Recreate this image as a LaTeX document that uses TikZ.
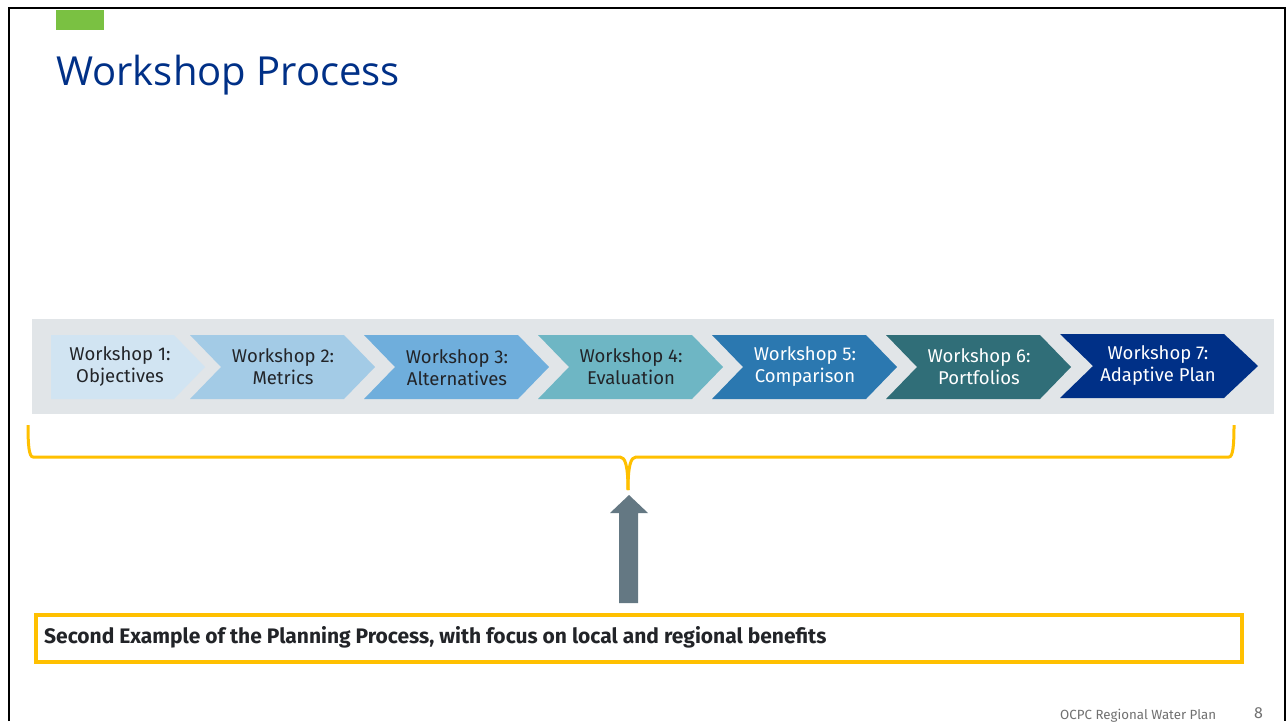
\documentclass[tikz,border=0pt]{standalone}
\usepackage{fontspec}
\setmainfont{Fira Sans}
\newfontfamily\titlefont{Open Sans}
\begin{document}
\begin{tikzpicture}[x=1pt,y=-1pt,
  lbl/.style={font=\fontsize{18.5}{22}\selectfont, align=center, inner sep=0pt},
  brace/.style={draw=bracey, line width=3pt, line join=round},
]
\definecolor{bracey}{HTML}{FFC000}
\definecolor{bandgray}{HTML}{E1E5E8}
\definecolor{cA}{HTML}{D1E4F2}
\definecolor{cB}{HTML}{A3CBE6}
\definecolor{cC}{HTML}{6FAEDC}
\definecolor{cD}{HTML}{6EB6C4}
\definecolor{cE}{HTML}{2B78B0}
\definecolor{cF}{HTML}{306E78}
\definecolor{cG}{HTML}{003087}
\definecolor{titleblue}{HTML}{003087}
\definecolor{arrowgray}{HTML}{647883}
\definecolor{txtdark}{HTML}{222428}
\definecolor{tabgreen}{HTML}{7AC142}
\definecolor{footgray}{HTML}{707070}
\useasboundingbox (0,0) rectangle (1288,721);
\fill[white] (0,0) rectangle (1288,721);
% slide frame
\draw[black, line width=2pt] (9,721) -- (9,8) -- (1285,8) -- (1285,721);
% green tab
\fill[tabgreen] (56,10) rectangle (104,30);
% title
\node[anchor=base west, inner sep=0pt, text=titleblue, font=\titlefont\fontsize{40}{46}\selectfont] (title) at (56,85) {Workshop Process};
% gray band
\fill[bandgray] (32,319) rectangle (1274,414);
% chevrons
\fill[cA] (51,335) -- (174,335) -- (205,367) -- (174,399) -- (51,399) -- cycle;
\foreach \i/\c in {0/cB,1/cC,2/cD,3/cE,4/cF}{
  \pgfmathsetmacro{\xo}{190+174*\i}
  \fill[\c] (\xo,335) -- (\xo+154,335) -- (\xo+185,367) -- (\xo+154,399) -- (\xo,399) -- (\xo+31,367) -- cycle;
}
\fill[cG] (1060,334) -- (1224,334) -- (1258,366) -- (1224,398) -- (1060,398) -- (1093,366) -- cycle;
\node[lbl, text=txtdark] (w1) at (120,367) {Workshop 1:\\Objectives};
\node[lbl, text=txtdark] (w2) at (283,367) {Workshop 2:\\Metrics};
\node[lbl, text=txtdark] (w3) at (457,368) {Workshop 3:\\Alternatives};
\node[lbl, text=txtdark] (w4) at (631,367) {Workshop 4:\\Evaluation};
\node[lbl, text=white] (w5) at (805,367) {Workshop 5:\\Comparison};
\node[lbl, text=white] (w6) at (979,367) {Workshop 6:\\Portfolios};
\node[lbl, text=white] (w7) at (1158,366) {Workshop 7:\\Adaptive Plan};
% brace
\coordinate (bl) at (28,425);
\coordinate (br) at (1234,425);
\coordinate (bm) at (628,490);
\draw[brace] (bl) .. controls (28,445) and (29,457) .. (33,457) -- (620,457)
  .. controls (625,457) and (628,465) .. (bm);
\draw[brace] (br) .. controls (1234,445) and (1233,457) .. (1229,457) -- (636,457)
  .. controls (631,457) and (628,465) .. (bm);
% arrow
\fill[arrowgray] (619,603) -- (619,513) -- (610,513) -- (629,495) -- (648,513) -- (638,513) -- (638,603) -- cycle;
% bottom box
\node[draw=bracey, line width=4pt, minimum width=1206pt, minimum height=47pt, anchor=north west, inner sep=0pt] (box) at (34,613) {};
\node[anchor=base west, inner sep=0pt, text=txtdark, font=\bfseries\fontsize{21}{24}\selectfont] (boxtxt) at (44,643) {Second Example of the Planning Process, with focus on local and regional benefits};
% footer
\node[anchor=base west, inner sep=0pt, text=footgray, font=\fontsize{13.3}{15}\selectfont] (foot) at (1060,719) {OCPC Regional Water Plan};
\node[anchor=base west, inner sep=0pt, text=footgray, font=\fontsize{16}{18}\selectfont] (page) at (1254,718) {8};
\end{tikzpicture}
\end{document}
